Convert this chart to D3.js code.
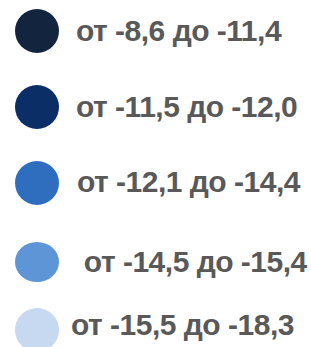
<!DOCTYPE html>
<html>
<head>
<meta charset="utf-8">
<script src="https://cdn.jsdelivr.net/npm/d3@7"></script>
<style>
  body { margin: 0; background: #fff; }
  text { font-family: "Liberation Sans", Arial, sans-serif; font-weight: bold; white-space: pre; }
</style>
</head>
<body>
<div id="chart-area"></div>
<script>
// legend classes
var labels = ["от -8,6 до -11,4", "от -11,5 до -12,0", "от -12,1 до -14,4", " от -14,5 до -15,4", "от -15,5 до -18,3"];
var colors = ["#13243f", "#0b2e66", "#2f6dbf", "#5e95d7", "#c6d9f0"];

var width = 311, height = 347;

// layout tweaks per row (px), the source legend is not evenly spaced
var rowNudge = [0, 0, 0, 3, -5];
var textNudge = [0, 0, 1, 0, -5];
var textDy = [10, 10, 9, 10, 5];
var squash = [1, 1, 1, 0.91, 1];

var svg = d3.select("#chart-area")
    .append("svg")
    .attr("width", width)
    .attr("height", height);

var y = d3.scalePoint()
    .domain(d3.range(labels.length))
    .range([31, 335]);

var rows = svg.selectAll("g.row")
    .data(labels)
    .enter()
    .append("g")
    .attr("class", "row")
    .attr("transform", function(d, i){ return "translate(0," + (y(i) + rowNudge[i]) + ")"; });

rows.append("ellipse")
    .attr("cx", 37)
    .attr("cy", 0)
    .attr("rx", 22)
    .attr("ry", function(d, i){ return 22 * squash[i]; })
    .attr("fill", function(d, i){ return colors[i]; });

rows.append("text")
    .attr("x", function(d, i){ return 76 + textNudge[i]; })
    .attr("y", function(d, i){ return textDy[i]; })
    .attr("font-size", 30)
    .attr("letter-spacing", -0.5)
    .attr("fill", "#595959")
    .text(function(d){ return d; });
</script>
</body>
</html>
